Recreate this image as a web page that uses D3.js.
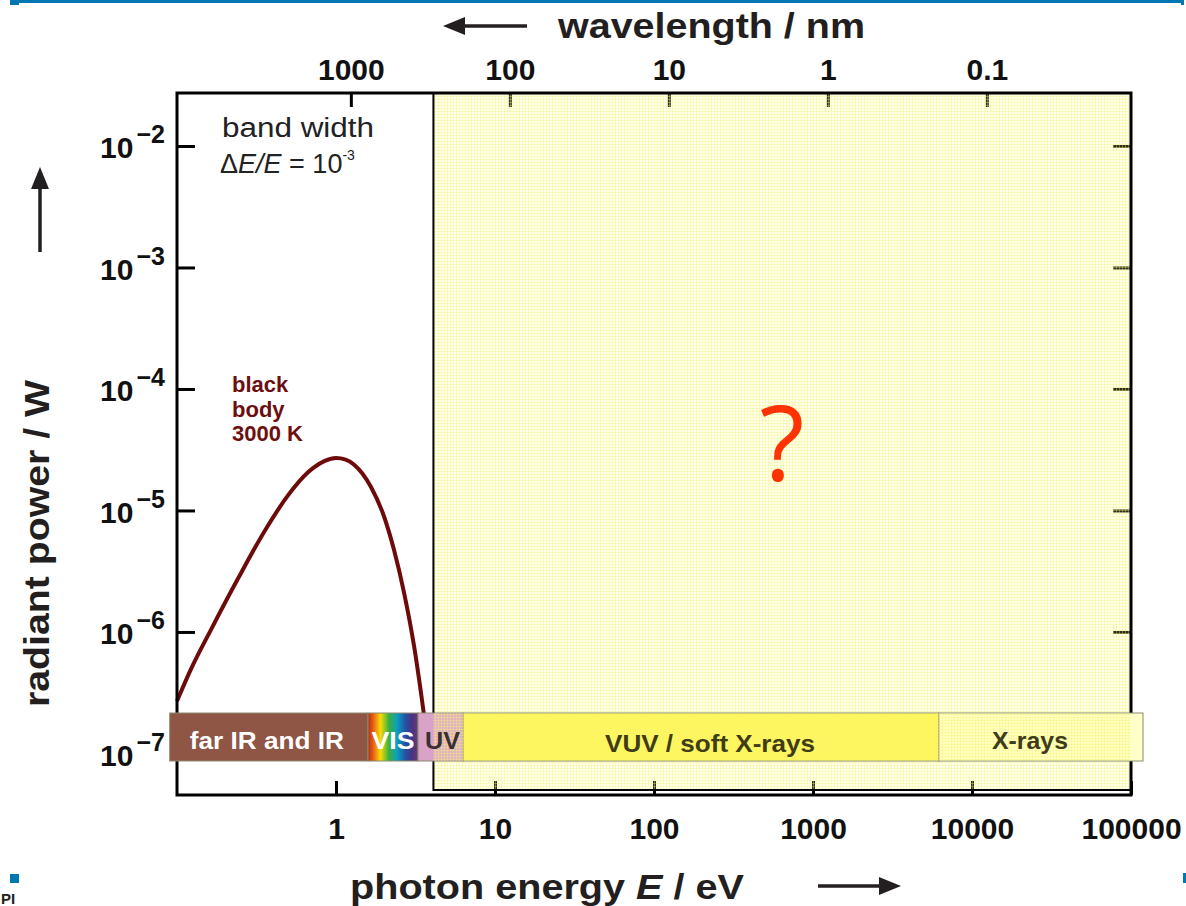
<!DOCTYPE html>
<html><head><meta charset="utf-8">
<script src="https://cdn.jsdelivr.net/npm/d3@7"></script>
<style>
html,body{margin:0;padding:0;background:#fff;}
svg{display:block;font-family:"Liberation Sans",Arial,sans-serif;}
</style></head>
<body>
<svg id="chart" width="1186" height="906"></svg>
<script>
// ---------- data ----------
const energyTicks = [1, 10, 100, 1000, 10000, 100000];          // eV
const energyTickLabels = ["1", "10", "100", "1000", "10000", "100000"];
const wavelengthTicks = [1000, 100, 10, 1, 0.1];               // nm
const wavelengthTickLabels = ["1000", "100", "10", "1", "0.1"];
const powerTicks = [1e-2, 1e-3, 1e-4, 1e-5, 1e-6, 1e-7];       // W
const powerTickExponents = ["−2", "−3", "−4", "−5", "−6", "−7"];

// black body 3000 K
const bbEnergy = [0.1, 0.122, 0.164, 0.242, 0.353, 0.499, 0.667, 0.727, 0.85, 1.0, 1.15, 1.30, 1.66, 2.0, 2.32, 2.68, 3.1, 3.43, 3.63, 3.8];
const bbPower  = [2.7e-7, 4.9e-7, 1.05e-6, 2.75e-6, 6.65e-6, 1.33e-5, 2.06e-5, 2.26e-5, 2.56e-5, 2.70e-5, 2.62e-5, 2.38e-5, 1.56e-5, 9.0e-6, 4.7e-6, 2.1e-6, 7.6e-7, 3.1e-7, 1.8e-7, 1.1e-7];

// spectral bands (eV)
const bandNames = ["far IR and IR", "VIS", "UV", "VUV / soft X-rays", "X-rays"];
const bandStart = [0.09, 1.59, 3.28, 6.3, 6200];
const bandEnd   = [1.59, 3.28, 6.3, 6200, 119000];

// unknown region (eV)
const unknownStart = 4.1;
const unknownEnd = 100000;

// ---------- styles ----------
const bandFill = ["#8f5545", "url(#vis)", "#d9a2c8", "#fff54c", "#ffffc8"];
const bandText = ["#ffffff", "#ffffff", "#3a3030", "#403c18", "#403c18"];
const bandTextLen = [154, 43, 35, 210, 76];
const hc = 1239.84; // eV nm

const svg = d3.select("#chart");
const L = 177, R = 1131, T = 93, B = 795;

const x = d3.scaleLog().domain([0.1, 1e5]).range([L, R]);
const xw = d3.scaleLog().domain([hc / 0.1, hc / 1e5]).range([L, R]);
const y = d3.scaleLog().domain([Math.pow(10, -7.342), Math.pow(10, -1.564)]).range([B, T]);

const defs = svg.append("defs");
const pat = defs.append("pattern").attr("id", "grid").attr("width", 3).attr("height", 3)
  .attr("patternUnits", "userSpaceOnUse");
pat.append("rect").attr("width", 3).attr("height", 3).attr("fill", "rgba(255,255,160,0.18)");
pat.append("path").attr("d", "M0 0.5H3M0.5 0V3").attr("stroke", "rgba(248,240,110,0.36)").attr("stroke-width", 1);

const vis = defs.append("linearGradient").attr("id", "vis");
[["0", "#b52a18"], ["0.12", "#ee6a12"], ["0.25", "#f6dc08"], ["0.42", "#3ab040"], ["0.58", "#0aa0c0"], ["0.74", "#2255a5"], ["0.88", "#4a3285"], ["1", "#6a3a72"]]
  .forEach(s => vis.append("stop").attr("offset", s[0]).attr("stop-color", s[1]));

// page decorations
svg.append("rect").attr("x", 10).attr("y", 0).attr("width", 1173).attr("height", 3).attr("fill", "#0077b3");
svg.append("rect").attr("x", 10).attr("y", 0).attr("width", 9).attr("height", 5).attr("fill", "#0077b3");
svg.append("rect").attr("x", 1181).attr("y", 0).attr("width", 3).attr("height", 5).attr("fill", "#0077b3");
svg.append("rect").attr("x", 10).attr("y", 874).attr("width", 9).attr("height", 9).attr("fill", "#0077b3");
svg.append("rect").attr("x", 1183).attr("y", 873).attr("width", 3).attr("height", 10).attr("fill", "#0077b3");
svg.append("text").attr("x", 1).attr("y", 904).attr("font-size", 15).attr("font-weight", "bold").attr("fill", "#222").text("PI");

// ---------- axes ----------
const axB = svg.append("g").attr("transform", `translate(0,${B})`)
  .call(d3.axisBottom(x).tickValues(energyTicks).tickFormat((d, i) => energyTickLabels[i]).tickSizeInner(-14).tickSizeOuter(0));
const axT = svg.append("g").attr("transform", `translate(0,${T})`)
  .call(d3.axisTop(xw).tickValues(wavelengthTicks).tickFormat((d, i) => wavelengthTickLabels[i]).tickSizeInner(-14).tickSizeOuter(0));
const axL = svg.append("g").attr("transform", `translate(${L},0)`)
  .call(d3.axisLeft(y).tickValues(powerTicks).tickFormat(() => "").tickSizeInner(-18).tickSizeOuter(0));
const axR = svg.append("g").attr("transform", `translate(${R},0)`)
  .call(d3.axisRight(y).tickValues(powerTicks).tickFormat(() => "").tickSizeInner(-18).tickSizeOuter(0));
[axB, axT, axL, axR].forEach(g => {
  g.select(".domain").remove();
  g.selectAll(".tick line").attr("stroke", "#000").attr("stroke-width", 3);
  g.selectAll(".tick text").attr("fill", "#111").attr("font-size", 30).attr("font-weight", "bold")
    .attr("font-family", "'Liberation Sans',Arial,sans-serif");
});
axB.selectAll(".tick text").attr("y", 44).attr("dy", null);
axT.selectAll(".tick text").attr("y", -13).attr("dy", null);
axL.selectAll(".tick text").each(function(d, i) {
  const t = d3.select(this).text(null).attr("x", -12).attr("y", 12).attr("dy", null).attr("text-anchor", "end");
  t.append("tspan").attr("font-size", 30).text("10");
  t.append("tspan").attr("font-size", 25).attr("dy", -15).attr("dx", 3).text(powerTickExponents[i]);
});

// ---------- black body curve ----------
const line = d3.line().x((d, i) => x(bbEnergy[i])).y((d, i) => y(bbPower[i])).curve(d3.curveMonotoneX);
svg.append("path").datum(bbEnergy).attr("d", line).attr("fill", "none").attr("stroke", "#6d0a0a").attr("stroke-width", 4);

// ---------- unknown region ----------
const ux0 = x(unknownStart), ux1 = x(unknownEnd);
svg.append("rect").attr("x", ux0).attr("y", T).attr("width", ux1 - ux0).attr("height", 790 - T).attr("fill", "url(#grid)");
svg.append("path").attr("d", `M${ux0},${T}V790H${ux1}`).attr("fill", "none").attr("stroke", "#000").attr("stroke-width", 2);

// frame
svg.append("rect").attr("x", L).attr("y", T).attr("width", R - L).attr("height", B - T)
  .attr("fill", "none").attr("stroke", "#000").attr("stroke-width", 3);

// ---------- band bar ----------
const barTop = 713, barH = 48;
const bands = svg.append("g");
bandNames.forEach((name, i) => {
  const x0 = x(bandStart[i]), x1 = x(bandEnd[i]);
  bands.append("rect").attr("x", x0).attr("y", barTop).attr("width", x1 - x0).attr("height", barH)
    .attr("fill", bandFill[i]).attr("stroke", "#8a8a70").attr("stroke-width", 1);
});
// overlay texture on the bar inside the unknown region
svg.append("rect").attr("x", ux0).attr("y", barTop).attr("width", ux1 - ux0).attr("height", barH).attr("fill", "url(#grid)");
const bandLabels = svg.append("g");
bandNames.forEach((name, i) => {
  const cx = i === 3 ? 710 : i === 4 ? 1030 : i === 2 ? 442.5 : (x(bandStart[i]) + x(bandEnd[i])) / 2 + (i === 0 ? -2 : 0);
  bandLabels.append("text").attr("x", cx).attr("y", i === 3 ? 752 : 749).attr("text-anchor", "middle")
    .attr("font-size", 24).attr("font-weight", "bold").attr("fill", bandText[i])
    .attr("textLength", bandTextLen[i]).attr("lengthAdjust", "spacingAndGlyphs").text(name);
});

// ---------- annotations ----------
svg.append("text").attr("x", 222).attr("y", 137).attr("font-size", 27).attr("fill", "#222")
  .attr("textLength", 152).attr("lengthAdjust", "spacingAndGlyphs").text("band width");
const bw = svg.append("text").attr("x", 220).attr("y", 173).attr("font-size", 27).attr("fill", "#222");
bw.append("tspan").text("Δ");
bw.append("tspan").attr("font-style", "italic").text("E");
bw.append("tspan").attr("font-style", "italic").text("/");
bw.append("tspan").attr("font-style", "italic").text("E");
bw.append("tspan").text(" = 10");
bw.append("tspan").attr("font-size", 14).attr("dy", -13).text("-3");

const bb = svg.append("text").attr("x", 232).attr("font-size", 22).attr("font-weight", "bold").attr("fill", "#6d0f0f");
["black", "body", "3000 K"].forEach((s, i) => bb.append("tspan").attr("x", 232).attr("y", 392 + i * 24.5).text(s));

svg.append("text").attr("x", 782).attr("y", 481).attr("text-anchor", "middle").attr("font-size", 104)
  .attr("font-family", "'Open Sans',sans-serif").attr("fill", "#ff3300").text("?");

// ---------- axis titles ----------
svg.append("text").attr("x", 558).attr("y", 38).attr("font-size", 35).attr("font-weight", "bold").attr("fill", "#231f20")
  .attr("textLength", 307).attr("lengthAdjust", "spacingAndGlyphs").text("wavelength / nm");
const xt = svg.append("text").attr("x", 350).attr("y", 899).attr("font-size", 35).attr("font-weight", "bold").attr("fill", "#231f20")
  .attr("textLength", 394).attr("lengthAdjust", "spacingAndGlyphs");
xt.append("tspan").text("photon energy ");
xt.append("tspan").attr("font-style", "italic").text("E");
xt.append("tspan").text(" / eV");
svg.append("text").attr("transform", "translate(49,707) rotate(-90)").attr("font-size", 35).attr("font-weight", "bold").attr("fill", "#231f20")
  .attr("textLength", 327).attr("lengthAdjust", "spacingAndGlyphs").text("radiant power / W");

// arrows
function arrow(x1, y1, x2, y2) {
  const a = Math.atan2(y2 - y1, x2 - x1), hl = 22, hw = 9;
  const bx = x2 - hl * Math.cos(a), by = y2 - hl * Math.sin(a);
  svg.append("line").attr("x1", x1).attr("y1", y1).attr("x2", bx).attr("y2", by).attr("stroke", "#231f20").attr("stroke-width", 3.5);
  svg.append("path").attr("fill", "#231f20").attr("d",
    `M${x2},${y2}L${bx - hw * Math.sin(a)},${by + hw * Math.cos(a)}L${bx + hw * Math.sin(a)},${by - hw * Math.cos(a)}Z`);
}
arrow(527, 26, 443, 26);
arrow(818, 886, 901, 886);
arrow(40, 252, 40, 167);
</script>
</body></html>
